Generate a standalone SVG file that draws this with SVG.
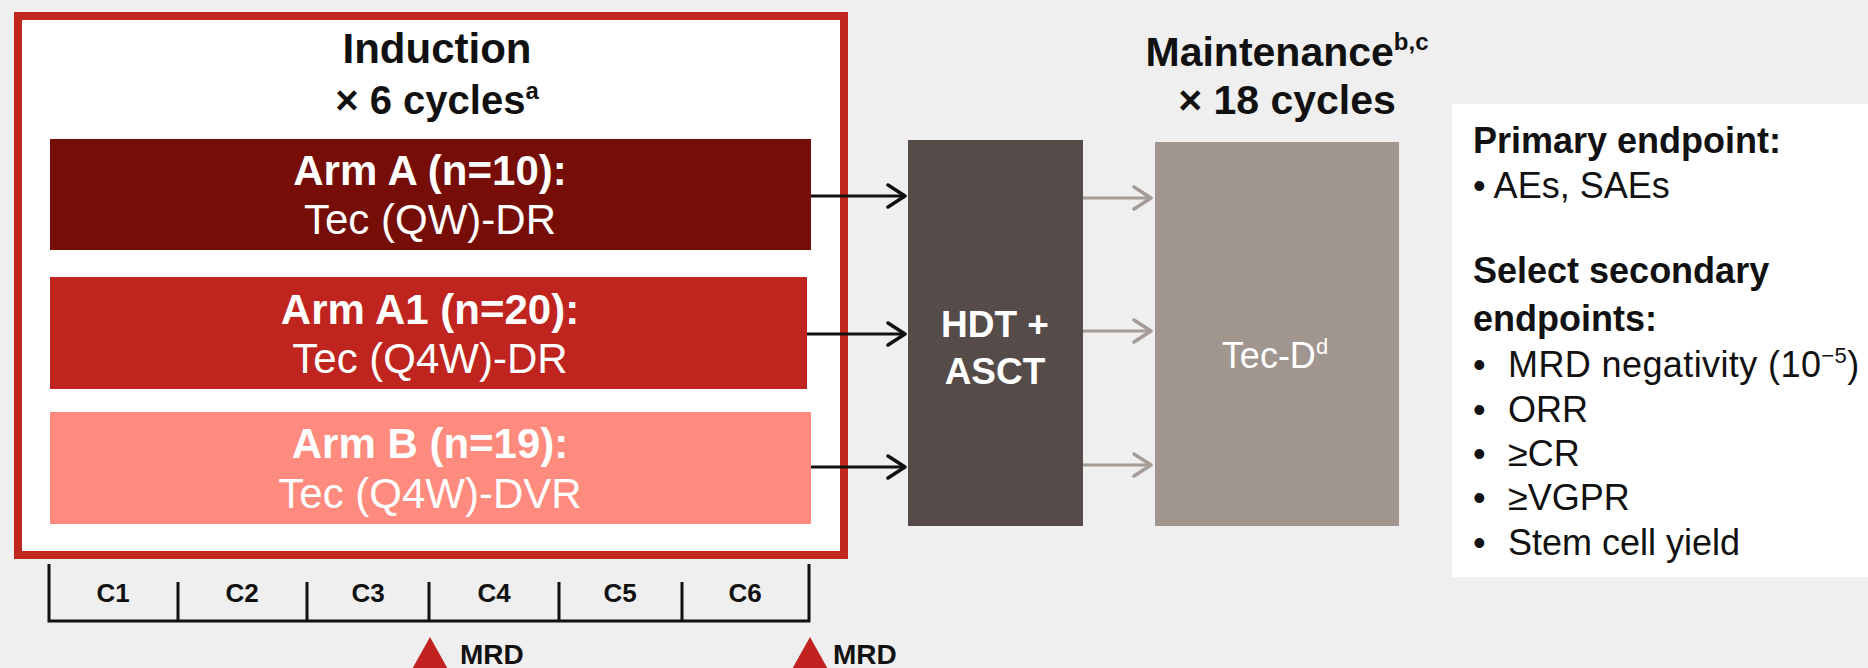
<svg xmlns="http://www.w3.org/2000/svg" width="1868" height="668" viewBox="0 0 1868 668">
<defs>
<style>
.t{font-family:"Liberation Sans",Arial,sans-serif;}
.b{font-weight:bold;}
.w{fill:#ffffff;}
.k{fill:#111111;}
.tl{stroke:#111111;stroke-width:3;fill:none;}
</style>
<marker id="ak" viewBox="0 0 22 26" refX="20" refY="13" markerWidth="22" markerHeight="26" markerUnits="userSpaceOnUse" orient="auto">
<path d="M3,2 L20,13 L3,24" fill="none" stroke="#111111" stroke-width="3.5" stroke-linecap="round" stroke-linejoin="round"/>
</marker>
<marker id="ag" viewBox="0 0 22 26" refX="20" refY="13" markerWidth="22" markerHeight="26" markerUnits="userSpaceOnUse" orient="auto">
<path d="M3,2 L20,13 L3,24" fill="none" stroke="#a59c97" stroke-width="3.5" stroke-linecap="round" stroke-linejoin="round"/>
</marker>
</defs>
<rect x="0" y="0" width="1868" height="668" fill="#efefef"/>

<g id="induction">
<rect x="18" y="16" width="826" height="539" fill="#ffffff" stroke="#c1261f" stroke-width="8"/>
<text class="t b k" x="437" y="63" font-size="42" text-anchor="middle">Induction</text>
<text class="t b k" x="437" y="114" font-size="40" text-anchor="middle">× 6 cycles<tspan font-size="24" dy="-15">a</tspan></text>
</g>

<g id="armA">
<rect x="50" y="139" width="761" height="111" fill="#760d07"/>
<text class="t b w" x="430" y="185" font-size="42" text-anchor="middle">Arm A (n=10):</text>
<text class="t w" x="430" y="234" font-size="42" text-anchor="middle">Tec (QW)-DR</text>
</g>

<g id="armA1">
<rect x="50" y="277" width="757" height="112" fill="#c0241f"/>
<text class="t b w" x="430" y="324" font-size="42" text-anchor="middle">Arm A1 (n=20):</text>
<text class="t w" x="430" y="373" font-size="42" text-anchor="middle">Tec (Q4W)-DR</text>
</g>

<g id="armB">
<rect x="50" y="412" width="761" height="112" fill="#fe8b7e"/>
<text class="t b w" x="430" y="458" font-size="42" text-anchor="middle">Arm B (n=19):</text>
<text class="t w" x="430" y="508" font-size="42" text-anchor="middle">Tec (Q4W)-DVR</text>
</g>

<g id="hdt">
<rect x="908" y="140" width="175" height="386" fill="#554b48"/>
<text class="t b w" x="995" y="337" font-size="37" text-anchor="middle">HDT +</text>
<text class="t b w" x="995" y="384" font-size="37" text-anchor="middle">ASCT</text>
</g>

<g id="maintenance">
<text class="t b k" x="1287" y="66" font-size="41" text-anchor="middle">Maintenance<tspan font-size="24" dy="-16">b,c</tspan></text>
<text class="t b k" x="1287" y="114" font-size="41" text-anchor="middle">× 18 cycles</text>
<rect x="1155" y="142" width="244" height="384" fill="#a0958f"/>
<text class="t w" x="1275" y="368" font-size="36" text-anchor="middle">Tec-D<tspan font-size="22" dy="-14">d</tspan></text>
</g>

<g id="endpoints">
<rect x="1452" y="104" width="430" height="473" fill="#ffffff"/>
<text class="t b k" x="1473" y="153" font-size="36">Primary endpoint:</text>
<text class="t k" x="1473" y="198" font-size="36">• AEs, SAEs</text>
<text class="t b k" x="1473" y="283" font-size="36">Select secondary</text>
<text class="t b k" x="1473" y="331" font-size="36">endpoints:</text>
<text class="t k" x="1473" y="377" font-size="36">•</text>
<text class="t k" x="1508" y="377" font-size="36" letter-spacing="0.4">MRD negativity (10<tspan font-size="22" dy="-14">−5</tspan><tspan dy="14">)</tspan></text>
<text class="t k" x="1473" y="422" font-size="36">•</text>
<text class="t k" x="1508" y="422" font-size="36">ORR</text>
<text class="t k" x="1473" y="466" font-size="36">•</text>
<text class="t k" x="1508" y="466" font-size="36">≥CR</text>
<text class="t k" x="1473" y="510" font-size="36">•</text>
<text class="t k" x="1508" y="510" font-size="36">≥VGPR</text>
<text class="t k" x="1473" y="555" font-size="36">•</text>
<text class="t k" x="1508" y="555" font-size="36">Stem cell yield</text>
</g>

<g id="timeline">
<path class="tl" d="M49,564 V621 H809 V564"/>
<path class="tl" d="M178,582 V621 M307,582 V621 M429,582 V621 M559,582 V621 M682,582 V621"/>
<text class="t b k" x="113" y="602" font-size="26" text-anchor="middle">C1</text>
<text class="t b k" x="242" y="602" font-size="26" text-anchor="middle">C2</text>
<text class="t b k" x="368" y="602" font-size="26" text-anchor="middle">C3</text>
<text class="t b k" x="494" y="602" font-size="26" text-anchor="middle">C4</text>
<text class="t b k" x="620" y="602" font-size="26" text-anchor="middle">C5</text>
<text class="t b k" x="745" y="602" font-size="26" text-anchor="middle">C6</text>
</g>

<g id="mrd1">
<polygon points="430,637 411,671 449,671" fill="#c0221f"/>
<text class="t b k" x="460" y="664" font-size="28">MRD</text>
</g>
<g id="mrd2">
<polygon points="810,637 791,671 829,671" fill="#c0221f"/>
<text class="t b k" x="833" y="664" font-size="28">MRD</text>
</g>

<g id="connectors">
<line x1="811" y1="196" x2="905" y2="196" stroke="#111111" stroke-width="3" marker-end="url(#ak)"/>
<line x1="807" y1="334" x2="905" y2="334" stroke="#111111" stroke-width="3" marker-end="url(#ak)"/>
<line x1="811" y1="467" x2="905" y2="467" stroke="#111111" stroke-width="3" marker-end="url(#ak)"/>
<line x1="1083" y1="198" x2="1151" y2="198" stroke="#a59c97" stroke-width="3" marker-end="url(#ag)"/>
<line x1="1083" y1="331" x2="1151" y2="331" stroke="#a59c97" stroke-width="3" marker-end="url(#ag)"/>
<line x1="1083" y1="465" x2="1151" y2="465" stroke="#a59c97" stroke-width="3" marker-end="url(#ag)"/>
</g>
</svg>
